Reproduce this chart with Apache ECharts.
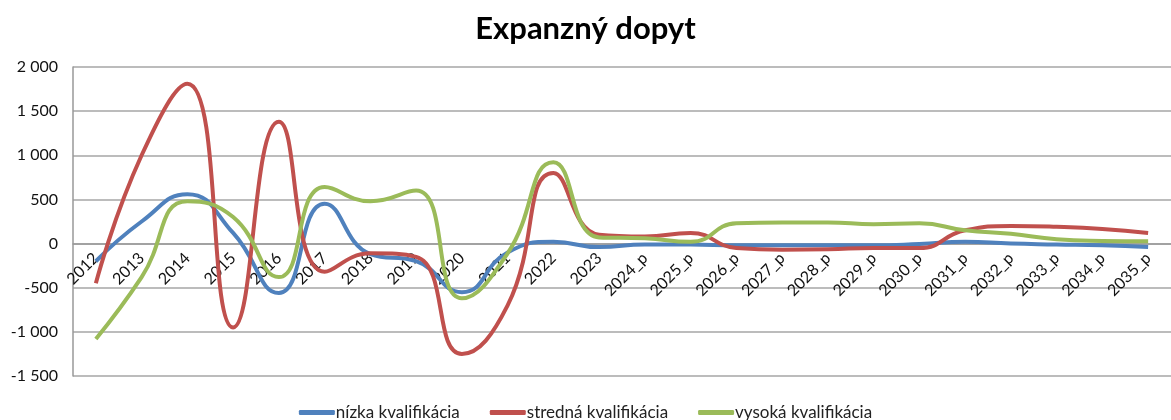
<!DOCTYPE html>
<html>
<head>
<meta charset="utf-8">
<script src="https://cdn.jsdelivr.net/npm/echarts@6/dist/echarts.min.js"></script>
<style>
  html, body { margin: 0; padding: 0; background: #fff; }
  #chart { width: 1171px; height: 420px; }
</style>
</head>
<body>
<div id="chart"></div>
<script>
// kategórie (roky)
var roky = ['2012', '2013', '2014', '2015', '2016', '2017', '2018', '2019', '2020', '2021', '2022', '2023',
    '2024_p', '2025_p', '2026_p', '2027_p', '2028_p', '2029_p', '2030_p', '2031_p', '2032_p', '2033_p', '2034_p', '2035_p'];

// hodnoty odčítané z grafu
var nizka = [-200, 250, 560, 120, -560, 450, -120, -200, -550, -100, 20, -40,
    -10, -10, -20, -20, -20, -20, -5, 20, 0, -10, -20, -40];
var stredna = [-450, 1000, 1810, -950, 1380, -320, -110, -150, -1250, -700, 800, 100,
    80, 120, -50, -70, -65, -50, -50, 150, 200, 190, 165, 120];
var vysoka = [-1080, -380, 480, 300, -380, 640, 480, 600, -620, -110, 920, 70,
    60, 20, 230, 240, 240, 220, 230, 150, 110, 50, 30, 25];

// os y
var yMin = -1500, yMax = 2000, yKrok = 500;

var nazvy = ['nízka kvalifikácia', 'stredná kvalifikácia', 'vysoká kvalifikácia'];
var farby = ['#4F81BD', '#C0504D', '#9BBB59'];

var gridTop = 67, gridHeight = 309;
// posun osi x na nulu
var posunX = -gridHeight * (0 - yMin) / (yMax - yMin);

var myChart = echarts.init(document.getElementById('chart'));

function seria(i, data) {
    return {
        name: nazvy[i],
        type: 'line',
        data: data,
        smooth: 0.5,
        symbol: 'none',
        lineStyle: { width: 4, color: farby[i] },
        itemStyle: { color: farby[i] }
    };
}

var option = {
    animation: false,
    textStyle: { fontFamily: 'Lato' },
    title: {
        text: 'Expanzný dopyt',
        left: 'center',
        top: 8,
        textStyle: { fontSize: 31, fontWeight: 'bold', color: '#000', fontFamily: 'Lato' }
    },
    legend: {
        data: nazvy,
        bottom: -6,
        left: 'center',
        icon: 'roundRect',
        itemWidth: 36,
        itemHeight: 5,
        itemGap: 30,
        textStyle: { fontSize: 17, color: '#222', padding: [0, 0, 0, -4] }
    },
    grid: { left: 73, top: gridTop, width: 1109, height: gridHeight },
    xAxis: {
        type: 'category',
        data: roky,
        boundaryGap: true,
        offset: posunX,
        axisLine: { onZero: false, lineStyle: { color: '#999', width: 1.5 } },
        axisTick: { show: false },
        axisLabel: { rotate: 45, fontSize: 16, color: '#111', margin: 12, interval: 0 }
    },
    yAxis: {
        type: 'value',
        min: yMin,
        max: yMax,
        interval: yKrok,
        axisLine: { show: true, lineStyle: { color: '#999', width: 1.5 } },
        axisTick: { show: false },
        splitLine: { lineStyle: { color: '#a6a6a6', width: 1.5 } },
        axisLabel: {
            fontSize: 16,
            color: '#111',
            margin: 15,
            formatter: function (v) {
                return String(v).replace(/\B(?=(\d{3})+(?!\d))/g, ' ');
            }
        }
    },
    series: [seria(0, nizka), seria(1, stredna), seria(2, vysoka)]
};

myChart.setOption(option);
</script>
</body>
</html>
